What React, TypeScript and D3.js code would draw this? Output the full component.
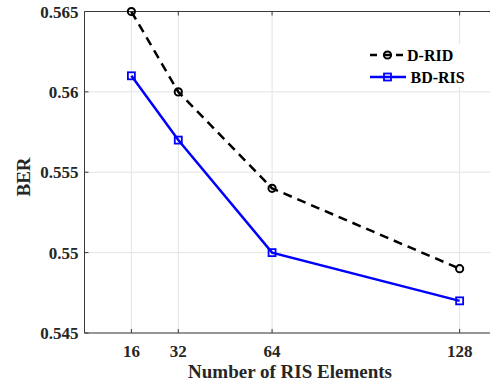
import React from "react";
import * as d3 from "d3";

// Number of RIS elements on the x axis
const elements = [16, 32, 64, 128];
// Bit error rate per scheme
const berDRID = [0.565, 0.56, 0.554, 0.549];
const berBDRIS = [0.561, 0.557, 0.55, 0.547];
// Axis ticks
const xTicks = [16, 32, 64, 128];
const yTicks = [0.545, 0.55, 0.555, 0.56, 0.565];

const W = 490;
const H = 381;
const FONT = "Liberation Serif, Times New Roman, Times, DejaVu Serif, serif";

export default function App() {
  const x = d3.scaleLinear().domain([0, 140]).range([84.5, 494.8]);
  const y = d3.scaleLinear().domain([0.545, 0.565]).range([333, 11.5]);
  const [x0, x1] = x.range();
  const [yb, yt] = y.range();

  const line = d3
    .line<[number, number]>()
    .x((d) => x(d[0]))
    .y((d) => y(d[1]));
  const dridPts = elements.map((e, i) => [e, berDRID[i]] as [number, number]);
  const bdPts = elements.map((e, i) => [e, berBDRIS[i]] as [number, number]);

  const axisColor = "#3a3a3a";
  const gridColor = "#e3e3e3";
  const fmt = (v: number) => String(+v.toFixed(3));
  const txt = { fontFamily: FONT, fontWeight: 700 } as React.CSSProperties;

  return (
    <svg
      width={W}
      height={H}
      style={{ position: "absolute", left: 0, top: 0, background: "#fff" }}
    >
      <defs>
        <clipPath id="plot">
          <rect x={x0} y={yt} width={x1 - x0} height={yb - yt} />
        </clipPath>
      </defs>
      <rect width={W} height={H} fill="#fff" />

      {/* grid */}
      {xTicks.map((t) => (
        <line key={"gx" + t} x1={x(t)} x2={x(t)} y1={yt} y2={yb} stroke={gridColor} strokeWidth={1} />
      ))}
      {yTicks.map((t) => (
        <line key={"gy" + t} x1={x0} x2={x1} y1={y(t)} y2={y(t)} stroke={gridColor} strokeWidth={1} />
      ))}

      {/* box and ticks */}
      <line x1={x0} x2={x1} y1={yb} y2={yb} stroke={axisColor} strokeWidth={1} />
      <line x1={x0} x2={x1} y1={yt} y2={yt} stroke={axisColor} strokeWidth={1} />
      <line x1={x0} x2={x0} y1={yt} y2={yb} stroke={axisColor} strokeWidth={1} />
      {xTicks.map((t) => (
        <g key={"tx" + t}>
          <line x1={x(t)} x2={x(t)} y1={yb} y2={yb - 4} stroke={axisColor} />
          <line x1={x(t)} x2={x(t)} y1={yt} y2={yt + 4} stroke={axisColor} />
        </g>
      ))}
      {yTicks.map((t) => (
        <line key={"ty" + t} x1={x0} x2={x0 + 4} y1={y(t)} y2={y(t)} stroke={axisColor} />
      ))}

      {/* tick labels */}
      {xTicks.map((t) => (
        <text key={"lx" + t} x={x(t)} y={357} textAnchor="middle" fontSize={17} fill="#262626" style={txt}>
          {t}
        </text>
      ))}
      {yTicks.map((t) => (
        <text key={"ly" + t} x={78.5} y={y(t) + 6} textAnchor="end" fontSize={17} fill="#262626" style={txt}>
          {fmt(t)}
        </text>
      ))}

      {/* axis titles */}
      <text x={290} y={377.5} textAnchor="middle" fontSize={19} fill="#262626" style={txt}>
        Number of RIS Elements
      </text>
      <text
        transform={`translate(29.5,${177}) rotate(-90)`}
        textAnchor="middle"
        fontSize={19}
        fill="#262626"
        style={txt}
      >
        BER
      </text>

      {/* series */}
      <g clipPath="url(#plot)">
        <path d={line(dridPts) || ""} fill="none" stroke="#000" strokeWidth={2.5} strokeDasharray="9,6" />
        <path d={line(bdPts) || ""} fill="none" stroke="#0000ff" strokeWidth={2.5} />
      </g>
      {dridPts.map((p, i) => (
        <circle key={"c" + i} cx={x(p[0])} cy={y(p[1])} r={3.6} fill="none" stroke="#000" strokeWidth={2} />
      ))}
      {bdPts.map((p, i) => (
        <rect
          key={"s" + i}
          x={x(p[0]) - 3.5}
          y={y(p[1]) - 3.5}
          width={7}
          height={7}
          fill="none"
          stroke="#0000ff"
          strokeWidth={1.8}
        />
      ))}

      {/* legend */}
      <rect x={362} y={44} width={110} height={43} fill="#fff" />
      <line x1={370} x2={406} y1={55} y2={55} stroke="#000" strokeWidth={2.5} strokeDasharray="7,6" />
      <circle cx={387.5} cy={55} r={3.6} fill="none" stroke="#000" strokeWidth={2} />
      <text x={407} y={61} fontSize={16} fill="#000" style={txt}>
        D-RID
      </text>
      <line x1={370} x2={406} y1={77} y2={77} stroke="#0000ff" strokeWidth={2.5} />
      <rect x={387.5 - 3.5} y={77 - 3.5} width={7} height={7} fill="none" stroke="#0000ff" strokeWidth={1.8} />
      <text x={410.5} y={83} fontSize={16} fill="#000" style={txt}>
        BD-RIS
      </text>
    </svg>
  );
}
